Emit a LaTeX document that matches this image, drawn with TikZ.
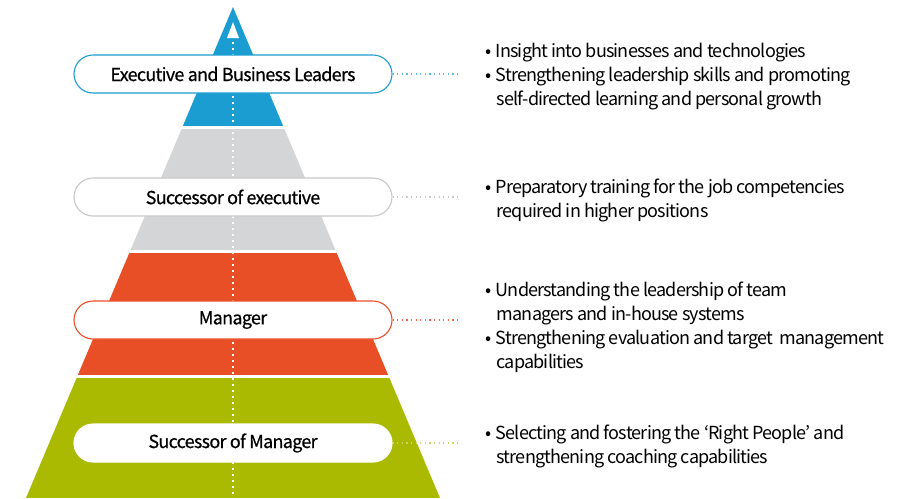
\documentclass[tikz,border=0pt]{standalone}
\usepackage{fontspec}
\setmainfont[LetterSpace=-4.5]{Noto Sans CJK KR}
\newfontfamily\lblfont[FakeBold=0.5,LetterSpace=-4]{Noto Sans CJK KR}
\usetikzlibrary{positioning}
\definecolor{pBlue}{RGB}{27,157,209}
\definecolor{pGray}{RGB}{212,213,214}
\definecolor{dGray}{RGB}{200,200,200}
\definecolor{pRed}{RGB}{233,79,39}
\definecolor{pGreen}{RGB}{170,186,0}
\newcommand{\bl}{\makebox[10.5pt][l]{\textbullet}}
\newcommand{\nb}{\hspace*{11.5pt}}

\begin{document}
\begin{tikzpicture}[x=1pt,y=1pt,
  lbl/.style={draw,fill=white,rounded corners=19pt,minimum width=318pt,minimum height=38pt,inner sep=0pt,line width=1.1pt,font=\lblfont\fontsize{18}{20}\selectfont},
  txt/.style={anchor=west,align=left,inner sep=0pt,font=\fontsize{18}{24}\selectfont},
  dots/.style={line width=1.3pt,dash pattern=on 1.3pt off 3.3pt,shorten >=25pt}]
\useasboundingbox (0,0) rectangle (904,-498);
% pyramid bands
\begin{scope}
 \clip (233,-7) -- (440,-498) -- (26,-498) -- cycle;
 \fill[pBlue]  (0,-7)   rectangle (470,-126);
 \fill[pGray]  (0,-129) rectangle (470,-250);
 \fill[pRed]   (0,-253) rectangle (470,-375);
 \fill[pGreen] (0,-378) rectangle (470,-498);
\end{scope}
\fill[white] (233,-22) -- (239,-38) -- (227,-38) -- cycle;
\draw[white,line width=1.8pt,dash pattern=on 1.8pt off 4.2pt] (233,-42) -- (233,-496);
% levels
\node[lbl,draw=pBlue] (exec)  at (233,-74)  {Executive and Business Leaders};
\node[lbl,draw=dGray] (sexec) at (233,-197) {Successor of executive};
\node[lbl,draw=pRed]  (mgr)   at (233,-320) {Manager};
\node[lbl,draw=white] (smgr)  at (233,-443) {Successor of Manager};
% descriptions
\node[txt] (t1) at (485,-77) {\bl Insight into businesses and technologies\\
  \bl Strengthening leadership skills and promoting\\
  \nb self-directed learning and personal growth};
\node[txt] (t2) at (485,-200.5) {\bl Preparatory training for the job competencies\\
  \nb required in higher positions};
\node[txt] (t3) at (485,-327) {\bl Understanding the leadership of team\\
  \nb managers and in-house systems\\
  \bl Strengthening evaluation and target\ \ management\\
  \nb capabilities};
\node[txt] (t4) at (485,-446.5) {\bl Selecting and fostering the ‘Right People’ and\\
  \nb strengthening coaching capabilities};
\draw[dots,pBlue!70]  (exec.east)  -- (exec -| t1.west);
\draw[dots,dGray]     (sexec.east) -- (sexec -| t2.west);
\draw[dots,pRed!85]   (mgr.east)   -- (mgr -| t3.west);
\draw[dots,pGreen!60] (smgr.east)  -- (smgr -| t4.west);
\end{tikzpicture}
\end{document}
